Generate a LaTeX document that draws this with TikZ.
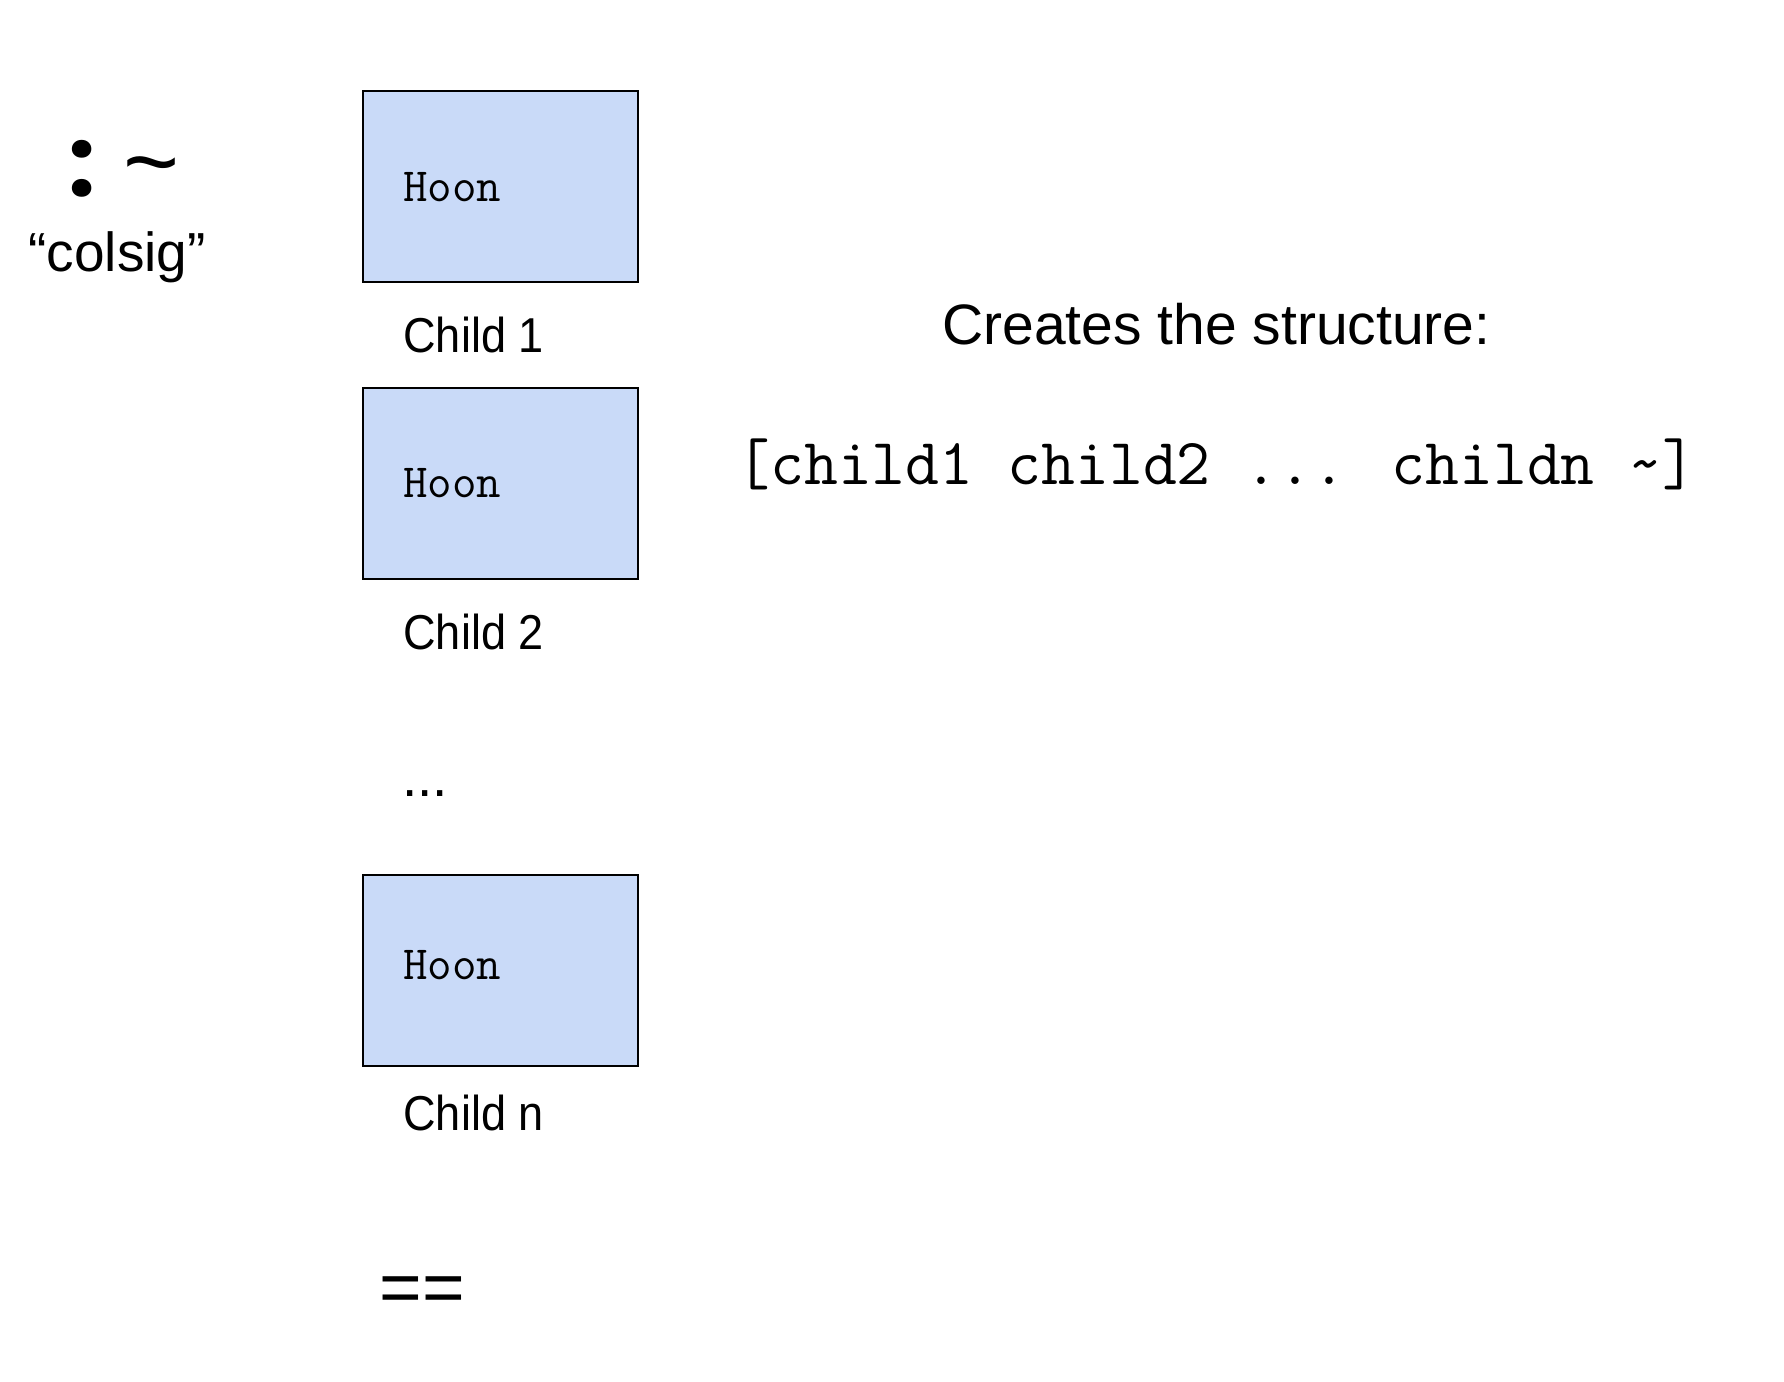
\documentclass[tikz,border=0pt]{standalone}
\usepackage{fontspec}
\setmainfont{Liberation Sans}
\newfontfamily\childfont[FakeStretch=0.92]{Liberation Sans}
\newfontfamily\colonfont{Poppins}
\definecolor{boxfill}{HTML}{C9DAF8}
\begin{document}
\begin{tikzpicture}[x=0.5pt,y=-0.5pt,
  hoonbox/.style={draw=black,line width=1pt,fill=boxfill,minimum width=137.5pt,minimum height=95.5pt,inner sep=0pt},
  txt/.style={anchor=base west,inner sep=0pt,font=\fontsize{27.5}{33}\selectfont},
  childlbl/.style={anchor=base west,inner sep=0pt,font=\childfont\fontsize{24.5}{30}\selectfont},
  mono/.style={anchor=base west,inner sep=0pt,font=\ttfamily\fontsize{23.8}{28}\selectfont},
  bigmono/.style={anchor=base west,inner sep=0pt,font=\ttfamily\fontsize{32.9}{39}\selectfont}]
\useasboundingbox[fill=white] (0,0) rectangle (1784,1382);
\node[anchor=base west,inner sep=0pt,font=\colonfont\bfseries\fontsize{48}{56}\selectfont] (colon) at (68,196.5) {:};
\node[anchor=base west,inner sep=0pt,font=\fontsize{48}{56}\selectfont] (tilde) at (123,194.5) {\char`\~};
\node[txt] (colsig) at (28,271) {“colsig”};
\node[hoonbox] (b1) at (500.5,186.5) {};
\node[mono] (h1) at (403,201) {Hoon};
\node[childlbl] (c1) at (403,352) {Child 1};
\node[hoonbox] (b2) at (500.5,483) {};
\node[mono] (h2) at (403,497) {Hoon};
\node[childlbl] (c2) at (403,649) {Child 2};
\node[txt] (dots) at (402,796) {...};
\node[hoonbox] (bn) at (500.5,970) {};
\node[mono] (hn) at (403,979) {Hoon};
\node[childlbl] (cn) at (403,1130) {Child n};
\node[anchor=base west,inner sep=0pt,font=\fontsize{36.5}{44}\selectfont] (eq) at (379,1312) {==};
\node[anchor=base west,inner sep=0pt,font=\fontsize{28.5}{34}\selectfont] (creates) at (942,344) {Creates the structure:};
\node[bigmono] (struct) at (736,484) {[child1 child2 ... childn \char`\~]};
\end{tikzpicture}
\end{document}
